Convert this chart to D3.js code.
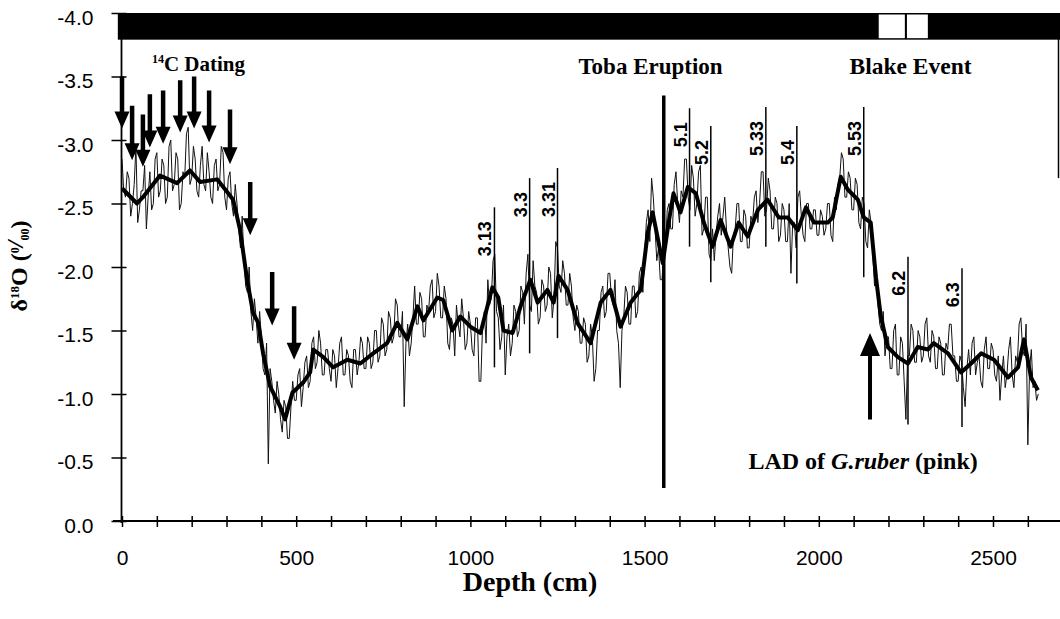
<!DOCTYPE html>
<html>
<head>
<meta charset="utf-8">
<script src="https://cdn.jsdelivr.net/npm/d3@7"></script>
<style>
  body { margin: 0; background: #fff; }
  .tick text { font-family: 'Liberation Sans', Arial, sans-serif; font-size: 21px; fill: #000; }
  .anno { font-family: 'Liberation Serif', 'Times New Roman', serif; font-weight: bold; fill: #000; }
  .stage { font-family: 'Liberation Sans', Arial, sans-serif; font-weight: bold; font-size: 18px; fill: #000; }
</style>
</head>
<body>
<svg id="chart" width="1060" height="619"></svg>
<script>
// Raw d18O record, one reading every 5 cm from 0 to 2630 cm
const RAW_STEP = 5;
const rawValues = [
  -2.85,-2.60,-2.55,-2.75,-2.70,-2.40,-2.50,-2.65,-2.95,-2.35,-2.45,-2.60,-2.60,-2.80,-2.30,-2.55,-2.75,-2.45,-2.50,-2.85,
  -2.90,-2.55,-2.60,-2.85,-2.80,-2.50,-2.55,-2.95,-3.00,-2.60,-2.65,-2.90,-2.85,-2.45,-2.50,-2.75,-2.70,-3.05,-3.10,-2.65,
  -2.70,-2.95,-2.85,-2.60,-2.55,-2.80,-2.95,-2.65,-2.60,-2.90,-2.75,-2.55,-2.50,-2.80,-2.85,-2.60,-2.65,-2.95,-2.90,-2.55,
  -2.45,-2.70,-2.75,-2.50,-2.40,-2.65,-2.50,-2.30,-2.15,-2.40,-2.05,-1.85,-1.80,-2.00,-1.65,-1.50,-1.75,-1.60,-1.40,-1.65,
  -1.45,-1.20,-1.15,-1.40,-0.45,-1.20,-1.10,-0.95,-0.85,-1.10,-1.00,-0.80,-0.70,-0.95,-0.90,-0.65,-0.65,-0.90,-1.10,-0.95,
  -0.95,-1.15,-1.20,-0.90,-1.05,-1.25,-1.30,-1.05,-1.10,-1.40,-1.45,-1.20,-1.25,-1.50,-1.40,-1.15,-1.15,-1.35,-1.35,-1.20,
  -1.10,-1.35,-1.30,-1.05,-1.20,-1.40,-1.45,-1.15,-1.15,-1.35,-1.30,-1.10,-1.05,-1.35,-1.35,-1.15,-1.25,-1.45,-1.40,-1.20,
  -1.20,-1.45,-1.40,-1.20,-1.25,-1.50,-1.50,-1.25,-1.30,-1.60,-1.55,-1.30,-1.35,-1.65,-1.60,-1.40,-1.45,-1.75,-1.70,-1.45,
  -1.45,-1.65,-0.90,-1.40,-1.55,-1.30,-1.40,-1.60,-1.85,-1.55,-1.55,-1.80,-1.75,-1.45,-1.45,-1.70,-1.65,-1.85,-1.90,-1.60,
  -1.65,-1.95,-1.85,-1.60,-1.60,-1.85,-1.75,-1.40,-1.35,-1.60,-1.55,-1.30,-1.70,-1.55,-1.45,-1.75,-1.60,-1.35,-1.40,-1.65,
  -1.55,-1.35,-1.30,-1.60,-1.60,-1.10,-1.10,-1.55,-1.65,-1.40,-1.90,-1.70,-1.75,-2.05,-2.10,-1.65,-1.60,-1.35,-1.45,-1.70,
  -1.15,-1.45,-1.55,-1.30,-1.40,-1.70,-1.65,-1.45,-1.50,-1.85,-1.80,-1.55,-1.95,-2.10,-1.70,-1.65,-2.05,-1.85,-1.80,-1.55,
  -1.60,-1.90,-1.85,-1.65,-1.70,-2.00,-1.95,-1.60,-1.75,-2.20,-2.15,-1.85,-1.80,-2.05,-1.95,-1.70,-1.70,-1.95,-1.85,-1.60,
  -1.50,-1.70,-1.65,-1.40,-1.40,-1.60,-1.55,-1.25,-1.30,-1.55,-1.45,-1.10,-1.20,-1.50,-1.50,-1.80,-1.85,-1.60,-1.65,-1.95,
  -1.95,-1.75,-1.70,-1.90,-1.50,-1.40,-1.05,-1.50,-1.60,-1.85,-1.80,-1.55,-1.55,-1.85,-1.85,-1.60,-1.65,-1.95,-2.00,-1.80,
  -2.10,-2.35,-2.45,-2.20,-2.70,-2.55,-2.30,-2.05,-2.15,-1.90,-1.90,-2.10,-2.15,-2.45,-2.50,-2.30,-2.30,-2.65,-2.75,-2.50,
  -2.35,-2.60,-2.55,-2.85,-2.85,-2.55,-2.45,-2.80,-2.70,-2.40,-2.50,-2.75,-2.80,-2.25,-2.30,-2.55,-2.55,-2.10,-2.05,-2.30,
  -2.05,-2.25,-2.40,-2.50,-2.25,-2.40,-2.55,-2.30,-2.15,-2.00,-1.95,-2.25,-2.30,-2.50,-2.50,-2.20,-2.20,-2.45,-2.40,-2.15,
  -2.15,-2.40,-2.35,-2.55,-2.60,-2.35,-2.50,-2.75,-2.75,-2.40,-2.45,-2.70,-2.60,-2.30,-2.30,-2.55,-2.50,-2.20,-2.25,-2.50,
  -2.45,-2.20,-2.20,-2.50,-1.95,-2.35,-2.35,-2.15,-2.55,-2.60,-2.40,-2.25,-2.20,-2.50,-2.50,-2.30,-2.30,-2.45,-2.45,-2.25,
  -2.25,-2.45,-2.40,-2.25,-2.30,-2.50,-2.50,-2.25,-2.20,-2.55,-2.45,-2.65,-2.70,-2.90,-2.85,-2.55,-2.55,-2.75,-2.70,-2.45,
  -2.45,-2.70,-2.65,-2.35,-2.30,-2.55,-2.50,-2.20,-2.15,-2.45,-2.35,-2.10,-1.85,-2.00,-1.70,-1.55,-1.50,-1.65,-1.30,-1.45,
  -1.45,-1.20,-1.20,-1.50,-1.55,-1.15,-1.15,-1.45,-1.40,-1.10,-0.80,-1.30,-1.30,-1.55,-1.50,-1.25,-1.25,-1.50,-1.45,-1.25,
  -1.30,-1.55,-1.60,-1.30,-1.25,-1.50,-1.45,-1.20,-1.20,-1.45,-1.40,-1.15,-1.15,-1.40,-1.35,-1.55,-1.55,-1.30,-1.30,-1.10,
  -1.10,-1.30,-1.25,-1.05,-0.90,-1.20,-1.35,-1.15,-1.40,-1.45,-1.15,-1.25,-1.30,-1.10,-1.05,-1.35,-1.45,-1.20,-1.20,-1.40,
  -1.35,-1.15,-1.10,-1.30,-0.95,-1.15,-1.30,-1.05,-1.15,-1.35,-1.45,-1.15,-1.05,-1.30,-1.25,-1.55,-1.60,-1.35,-1.30,-1.55,
  -0.60,-1.20,-1.35,-1.05,-1.10,-0.95,-1.00
];

// Smoothed curve (depth in cm, d18O)
const smoothDepth = [0,43,60,109,158,195,224,273,302,319,339,359,376,391,405,425,454,468,489,520,540,549,578,606,647,684,721,761,790,819,848,865,905,922,948,971,1000,1029,1063,1080,1095,1121,1144,1172,1193,1221,1239,1253,1279,1307,1345,1374,1402,1431,1460,1489,1509,1523,1552,1569,1583,1603,1624,1647,1670,1695,1718,1747,1770,1796,1825,1853,1885,1911,1940,1963,1986,2026,2040,2063,2083,2112,2129,2149,2164,2178,2198,2227,2256,2284,2313,2330,2371,2408,2437,2466,2503,2543,2572,2589,2609,2629];
const smoothValue = [-2.62,-2.50,-2.55,-2.72,-2.66,-2.76,-2.67,-2.69,-2.59,-2.53,-2.29,-1.90,-1.64,-1.56,-1.32,-1.06,-0.90,-0.80,-1.01,-1.09,-1.17,-1.35,-1.29,-1.21,-1.27,-1.24,-1.32,-1.40,-1.56,-1.43,-1.69,-1.58,-1.76,-1.74,-1.50,-1.61,-1.53,-1.48,-1.84,-1.76,-1.50,-1.48,-1.69,-1.90,-1.72,-1.82,-1.72,-1.93,-1.82,-1.56,-1.40,-1.72,-1.82,-1.53,-1.72,-1.82,-2.27,-2.43,-2.03,-2.35,-2.58,-2.43,-2.63,-2.58,-2.35,-2.16,-2.37,-2.16,-2.35,-2.24,-2.45,-2.53,-2.39,-2.39,-2.29,-2.47,-2.35,-2.35,-2.39,-2.71,-2.61,-2.53,-2.39,-2.35,-1.92,-1.61,-1.37,-1.29,-1.24,-1.37,-1.35,-1.40,-1.32,-1.17,-1.24,-1.32,-1.27,-1.13,-1.21,-1.43,-1.13,-1.03];

// Isotope (sub)stage markers
const stageLabels = ['3.13','3.3','3.31','5.1','5.2','5.33','5.4','5.53','6.2','6.3'];
const stageDepth  = [1069, 1170, 1250, 1629, 1690, 1848, 1937, 2129, 2256, 2411];
const stageTop    = [-2.47,-2.70,-2.78,-3.25,-3.11,-3.26,-3.11,-3.26,-2.08,-1.99];
const stageBottom = [-1.21,-1.32,-1.44,-2.16,-1.88,-2.16,-1.87,-1.92,-0.76,-0.74];

// 14C dating arrows
const datingDepth = [0, 29, 60, 80, 118, 167, 207, 250, 310, 368, 431, 494];
const datingTop   = [-3.50,-3.27,-3.20,-3.36,-3.39,-3.47,-3.50,-3.39,-3.24,-2.67,-1.96,-1.69];
const datingTip   = [-3.09,-2.84,-2.79,-2.94,-2.97,-3.06,-3.09,-2.98,-2.81,-2.25,-1.54,-1.27];

// Toba ash layer, LAD of G. ruber (pink), Blake event
const tobaDepth = 1555, tobaRange = [-3.35, -0.26];
const ladDepth = 2147, ladRange = [-0.80, -1.48];
const blakeIntervals = [[2172, 2247], [2253, 2313]];
const polarityBar = [-4.0, -3.79];

const xTicks = d3.range(0, 2700, 100);
const yTicks = [0, -0.5, -1.0, -1.5, -2.0, -2.5, -3.0, -3.5, -4.0];

const svg = d3.select('#chart');
svg.append('rect').attr('width', 1060).attr('height', 619).attr('fill', '#fff');

const x = d3.scaleLinear().domain([0, 2500]).range([122, 993]);
const y = d3.scaleLinear().domain([0, -4]).range([521, 13]);

// Polarity bar across the top
svg.append('rect')
    .attr('x', x(-12)).attr('y', y(polarityBar[0]))
    .attr('width', 1060 - x(-12)).attr('height', y(polarityBar[1]) - y(polarityBar[0]))
    .attr('fill', '#000');
svg.selectAll('.blake')
    .data(blakeIntervals)
    .enter().append('rect')
    .attr('x', d => x(d[0])).attr('y', y(polarityBar[0]) + 1.5)
    .attr('width', d => x(d[1]) - x(d[0]))
    .attr('height', y(polarityBar[1]) - y(polarityBar[0]) - 3)
    .attr('fill', '#fff');
svg.append('line')
    .attr('x1', 1058.5).attr('x2', 1058.5)
    .attr('y1', y(-4)).attr('y2', y(-2.7))
    .attr('stroke', '#000').attr('stroke-width', 1.5);

// Axes
const xAxis = svg.append('g')
    .attr('transform', `translate(0,${y(0)})`)
    .call(d3.axisBottom(x).tickValues(xTicks).tickFormat(d => d % 500 === 0 ? d : '').tickSizeOuter(0));
xAxis.select('.domain').remove();
xAxis.selectAll('.tick line').attr('y1', -5).attr('y2', 6).attr('stroke-width', 1.5);
xAxis.selectAll('.tick text').attr('y', 29);
xAxis.append('line').attr('x1', 113).attr('x2', 1060).attr('stroke', '#000').attr('stroke-width', 1.8);

const yAxis = svg.append('g')
    .attr('transform', `translate(${x(0) - 0.5},0)`)
    .call(d3.axisLeft(y).tickValues(yTicks).tickFormat(d => d.toFixed(1)).tickSizeOuter(0));
yAxis.select('.domain').remove();
yAxis.selectAll('.tick line').attr('x1', -10).attr('x2', 5).attr('stroke-width', 1.5);
yAxis.selectAll('.tick text').attr('x', -28).attr('dy', '0.68em').attr('y', -3);
yAxis.append('line').attr('y1', y(-4)).attr('y2', y(0) + 2).attr('stroke', '#000').attr('stroke-width', 1.8);

// Raw record
const rawData = rawValues.map((v, i) => [i * RAW_STEP, v]);
svg.append('path')
    .datum(rawData)
    .attr('fill', 'none')
    .attr('stroke', '#111')
    .attr('stroke-width', 1)
    .attr('d', d3.line().x(d => x(d[0])).y(d => y(d[1])));

// Smoothed record
svg.append('path')
    .datum(smoothDepth.map((d, i) => [d, smoothValue[i]]))
    .attr('fill', 'none')
    .attr('stroke', '#000')
    .attr('stroke-width', 4)
    .attr('stroke-linejoin', 'round')
    .attr('d', d3.line().x(d => x(d[0])).y(d => y(d[1])));

// Stage markers
const stages = svg.selectAll('.stage-g')
    .data(stageLabels.map((s, i) => ({ label: s, depth: stageDepth[i], top: stageTop[i], bottom: stageBottom[i] })))
    .enter().append('g');
stages.append('line')
    .attr('x1', d => x(d.depth)).attr('x2', d => x(d.depth))
    .attr('y1', d => y(d.top)).attr('y2', d => y(d.bottom))
    .attr('stroke', '#000').attr('stroke-width', 1.5);
stages.append('text')
    .attr('class', 'stage')
    .attr('text-anchor', 'end')
    .attr('transform', d => `translate(${x(d.depth) - 3},${y(d.top) + 14}) rotate(-90)`)
    .text(d => d.label);

// Toba eruption line
svg.append('line')
    .attr('x1', x(tobaDepth)).attr('x2', x(tobaDepth))
    .attr('y1', y(tobaRange[0])).attr('y2', y(tobaRange[1]))
    .attr('stroke', '#000').attr('stroke-width', 3.5);

// Arrows
function arrowPath(px, y0, y1, head, half, shaft) {
    const dir = y1 > y0 ? 1 : -1;
    const yb = y1 - dir * head;
    return `M${px - shaft / 2},${y0} L${px + shaft / 2},${y0} L${px + shaft / 2},${yb} L${px + half},${yb} L${px},${y1} L${px - half},${yb} L${px - shaft / 2},${yb} Z`;
}
svg.selectAll('.dating')
    .data(datingDepth.map((d, i) => ({ depth: d, top: datingTop[i], tip: datingTip[i] })))
    .enter().append('path')
    .attr('d', d => arrowPath(x(d.depth), y(d.top), y(d.tip), 17, 7.5, 4.5))
    .attr('fill', '#000');
svg.append('path')
    .attr('d', arrowPath(x(ladDepth), y(ladRange[0]), y(ladRange[1]), 23, 10, 4))
    .attr('fill', '#000');

// Annotations
const c14 = svg.append('text').attr('class', 'anno').attr('x', x(86)).attr('y', y(-3.54)).style('font-size', '21px');
c14.append('tspan').text('14').style('font-size', '12px').attr('dy', -8);
c14.append('tspan').text('C Dating').attr('dy', 8);

svg.append('text').attr('class', 'anno').attr('x', x(1310)).attr('y', y(-3.52)).style('font-size', '23px').text('Toba Eruption');
svg.append('text').attr('class', 'anno').attr('x', x(2088)).attr('y', y(-3.52)).style('font-size', '23.5px').text('Blake Event');

const lad = svg.append('text').attr('class', 'anno').attr('x', x(1798)).attr('y', y(-0.41)).style('font-size', '24px');
lad.append('tspan').text('LAD of ');
lad.append('tspan').text('G.ruber').style('font-style', 'italic');
lad.append('tspan').text(' (pink)');

// Axis titles
svg.append('text').attr('class', 'anno')
    .attr('x', 530).attr('y', 591)
    .attr('text-anchor', 'middle')
    .style('font-size', '28px')
    .text('Depth (cm)');

const yl = svg.append('text').attr('class', 'anno')
    .attr('text-anchor', 'middle')
    .attr('transform', 'translate(27,266) rotate(-90)')
    .style('font-size', '24px');
yl.append('tspan').text('δ');
yl.append('tspan').text('18').style('font-size', '13px').attr('dy', -8);
yl.append('tspan').text('O (').attr('dy', 8);
yl.append('tspan').text('0').style('font-size', '12px').attr('dy', -8);
yl.append('tspan').text('/').style('font-style', 'italic').attr('dy', 4);
yl.append('tspan').text('00').style('font-size', '12px').attr('dy', 6);
yl.append('tspan').text(')').attr('dy', -2);
</script>
</body>
</html>
